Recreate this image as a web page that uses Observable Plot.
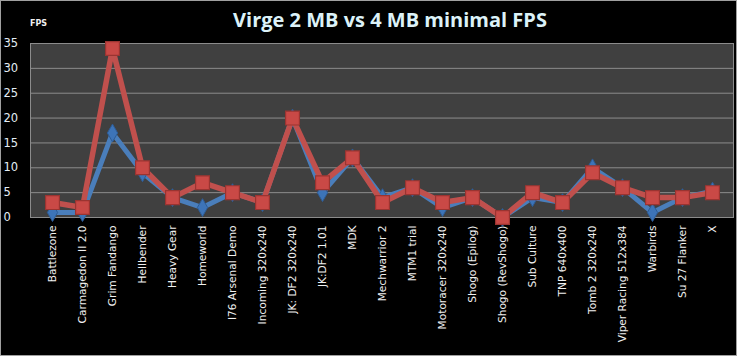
<!DOCTYPE html>
<html>
<head>
<meta charset="utf-8">
<script src="https://cdn.jsdelivr.net/npm/d3@7"></script>
<script src="https://cdn.jsdelivr.net/npm/@observablehq/plot@0.6"></script>
<style>
  html, body { margin: 0; padding: 0; background: #000; }
  #wrap { position: relative; width: 737px; height: 356px; background: #000; overflow: hidden; }
  #title { position: absolute; left: 0; width: 780px; top: 6px; text-align: center;
           font-family: "Open Sans", sans-serif; font-weight: bold; font-size: 20px; color: #dcf2f8; }
  #ylabel { position: absolute; left: 30px; top: 19px; font-family: "DejaVu Sans", sans-serif;
            font-weight: bold; font-size: 8px; color: #f0f0f0; }
  #border { position: absolute; left: 0; top: 0; width: 737px; height: 356px; box-sizing: border-box;
            border: 1px solid #a0a0a0; pointer-events: none; }
  #chart svg { display: block; }
</style>
</head>
<body>
<div id="wrap">
  <div id="chart"></div>
  <div id="title">Virge 2 MB vs 4 MB minimal FPS</div>
  <div id="ylabel">FPS</div>
  <div id="border"></div>
</div>
<script>
const categories = [
  "Battlezone", "Carmagedon II 2.0", "Grim Fandango", "Hellbender", "Heavy Gear",
  "Homeworld", "I76 Arsenal Demo", "Incoming 320x240", "JK: DF2 320x240", "JK:DF2 1.01",
  "MDK", "Mechwarrior 2", "MTM1 trial", "Motoracer 320x240", "Shogo (Epilog)",
  "Shogo (RevShogo)", "Sub Culture", "TNP 640x400", "Tomb 2 320x240", "Viper Racing 512x384",
  "Warbirds", "Su 27 Flanker", "X"
];
const fps2MB = [1, 1, 17, 9, 4, 2, 5, 3, 20, 5, 12, 4, 6, 2, 4, 0, 4, 3, 10, 6, 1, 4, 5.3];
const fps4MB = [3, 2, 34, 10, 4, 7, 5, 3, 20, 7, 12, 3, 6, 3, 4, 0, 5, 3, 9, 6, 4, 4, 5];
const yTicks = [0, 5, 10, 15, 20, 25, 30, 35];

const data = categories.map((game, i) => ({ game, mb2: fps2MB[i], mb4: fps4MB[i] }));

const blue = "#4a7ebb";
const red = "#c0504d";

const chart = Plot.plot({
  width: 737,
  height: 356,
  marginTop: 43,
  marginBottom: 139,
  marginLeft: 30,
  marginRight: 4,
  style: { background: "transparent", color: "#e8f0f4", fontFamily: "DejaVu Sans, sans-serif", fontSize: "10px" },
  x: { type: "point", domain: categories, padding: 0.5, label: null },
  y: { domain: [0, 35], label: null },
  marks: [
    Plot.frame({ fill: "#404040" }),
    Plot.ruleY(yTicks, { stroke: "#8c8c8c", strokeWidth: 1 }),
    Plot.frame({ stroke: "#8c8c8c" }),
    Plot.axisY(yTicks, { tickSize: 0, tickPadding: 0, textAnchor: "start", dx: -27, fontSize: 11.5, fill: "#e4eef6" }),
    Plot.axisX({ tickSize: 0, tickPadding: 8, tickRotate: -90, fontSize: 10.6, fill: "#f0f0f0" }),
    Plot.line(data, { x: "game", y: "mb2", stroke: blue, strokeWidth: 5 }),
    Plot.dot(data, { x: "game", y: "mb2", symbol: "diamond", r: 5.4, fill: "#3d74b8", stroke: "#2d5c96", strokeWidth: 1 }),
    Plot.line(data, { x: "game", y: "mb4", stroke: red, strokeWidth: 5.5 }),
    Plot.dot(data, { x: "game", y: "mb4", symbol: "square", r: 7.8, fill: "#c94946", stroke: "#9a3431", strokeWidth: 1.2 })
  ]
});
document.getElementById("chart").appendChild(chart);
</script>
</body>
</html>
